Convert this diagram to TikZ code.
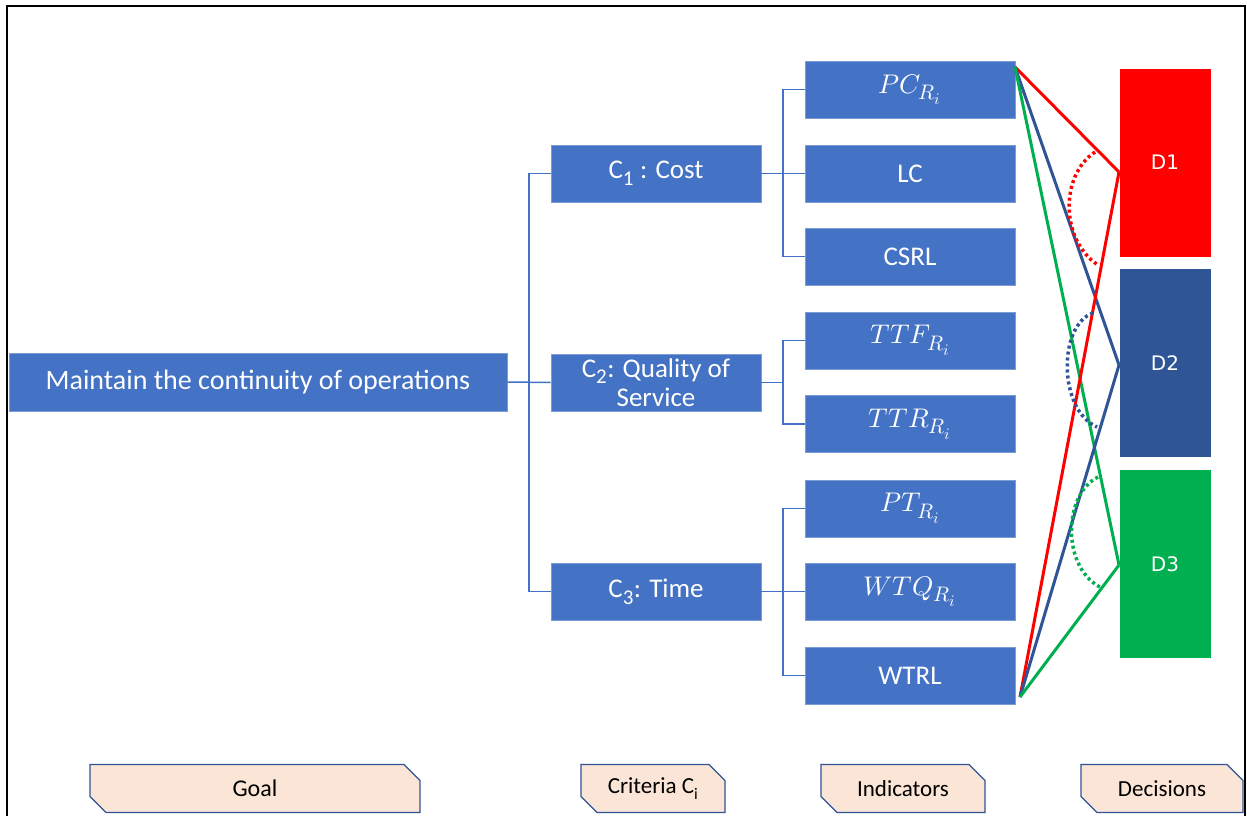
\documentclass[tikz,border=0pt]{standalone}
\usepackage{fontspec}
\usepackage{unicode-math}
\setmainfont{Carlito}
\setmathfont{Latin Modern Math}
\DeclareMathSizes{27}{27}{21}{16}
\newfontfamily\dejavu{DejaVu Sans}
\usetikzlibrary{shapes.misc}
\definecolor{bl}{HTML}{4472C4}
\definecolor{dblue}{HTML}{2F5597}
\definecolor{dred}{HTML}{FF0000}
\definecolor{dgreen}{HTML}{00B050}
\definecolor{peach}{HTML}{FBE5D6}
\begin{document}
\begin{tikzpicture}[x=1pt,y=-1pt,
  box/.style={fill=bl,draw=bl!70!white,line width=0.6pt,text=white,minimum width=210pt,minimum height=57pt,inner sep=0pt,align=center,font=\fontsize{27}{29}\selectfont},
  mbox/.style={box,font=\fontsize{27}{30}\selectfont},
  dbox/.style={draw=white,line width=0.6pt,text=white,minimum width=92pt,minimum height=189pt,inner sep=0pt,font=\dejavu\fontsize{20}{24}\selectfont},
  tree/.style={draw=bl,line width=1.5pt},
  link/.style={line width=3pt},
  dotarc/.style={line width=3.5pt,dash pattern=on 3pt off 3pt},
  lab/.style={chamfered rectangle,chamfered rectangle corners={north east,south west},chamfered rectangle xsep=8pt,chamfered rectangle ysep=8pt,fill=peach,draw=dblue,line width=1.2pt,minimum height=48pt,inner sep=0pt,text=black,font=\fontsize{23}{26}\selectfont}]
\useasboundingbox (0,0) rectangle (1247,816);
\fill[white] (0,0) rectangle (1247,816);
\draw[black,line width=2pt] (6.5,830) -- (6.5,6.5) -- (1245,6.5) -- (1245,830);

% goal and criteria
\node[box,minimum width=498pt,minimum height=58pt,font=\fontsize{28}{30}\selectfont] (goal) at (258,382) {Maintain the continuity of operations};
\node[box] (c1) at (656,173.5) {C\textsubscript{1} : Cost};
\node[box] (c2) at (656,382.5) {C\textsubscript{2}: Quality of\\Service};
\node[box] (c3) at (656,591.5) {C\textsubscript{3}: Time};

% indicators
\node[mbox] (pc) at (910,89.5) {$PC_{R_i}$};
\node[box] (lc) at (910,173.5) {LC};
\node[box] (csrl) at (910,256.5) {CSRL};
\node[mbox] (ttf) at (910,340.5) {$TTF_{R_i}$};
\node[mbox] (ttr) at (910,424) {$TTR_{R_i}$};
\node[mbox] (pt) at (910,508.5) {$PT_{R_i}$};
\node[mbox] (wtq) at (910,591.5) {$WTQ_{R_i}$};
\node[box] (wtrl) at (910,675.5) {WTRL};

% decisions
\node[dbox,fill=dred] (d1) at (1165,162.5) {D1};
\node[dbox,fill=dblue] (d2) at (1165,363) {D2};
\node[dbox,fill=dgreen] (d3) at (1165,564) {D3};

% tree connectors
\coordinate (j0) at (529,382);
\coordinate (j1) at (783,173.5);
\coordinate (j2) at (783,382.5);
\coordinate (j3) at (783,591.5);
\draw[tree] (goal.east) -- (c2.west);
\draw[tree] (c1.west) -| (j0);
\draw[tree] (c3.west) -| (j0);
\draw[tree] (c1.east) -- (lc.west);
\draw[tree] (pc.west) -| (j1);
\draw[tree] (csrl.west) -| (j1);
\draw[tree] (c2.east) -- (j2);
\draw[tree] (ttf.west) -| (j2);
\draw[tree] (ttr.west) -| (j2);
\draw[tree] (c3.east) -- (wtq.west);
\draw[tree] (pt.west) -| (j3);
\draw[tree] (wtrl.west) -| (j3);

% decision links
\coordinate (pcp) at (1015,67);
\coordinate (wp) at (1020,697);
\coordinate (d1p) at (1119,172);
\coordinate (d2p) at (1119,365);
\coordinate (d3p) at (1119,565);
\draw[link,dred] (pcp) -- (d1p);
\draw[link,dblue] (pcp) -- (d2p);
\draw[link,dgreen] (pcp) -- (d3p);
\draw[link,dred] (wp) -- (d1p);
\draw[link,dblue] (wp) -- (d2p);
\draw[link,dgreen] (wp) -- (d3p);

% dotted arcs
\draw[dotarc,dred] (1095,152) .. controls (1060,175) and (1060,240) .. (1098,265);
\draw[dotarc,dblue] (1093,313) .. controls (1058,325) and (1058,410) .. (1097,427);
\draw[dotarc,dgreen] (1098,477) .. controls (1062,495) and (1062,570) .. (1102,588);

% bottom labels
\node[lab,minimum width=330pt,font=\fontsize{24}{26}\selectfont] (lgoal) at (255,788.5) {Goal};
\node[lab,minimum width=144pt] (lcrit) at (653,788.5) {Criteria C\textsubscript{i}};
\node[lab,minimum width=164pt] (lind) at (903,788.5) {Indicators};
\node[lab,minimum width=162pt] (ldec) at (1162,788.5) {Decisions};
\end{tikzpicture}
\end{document}
